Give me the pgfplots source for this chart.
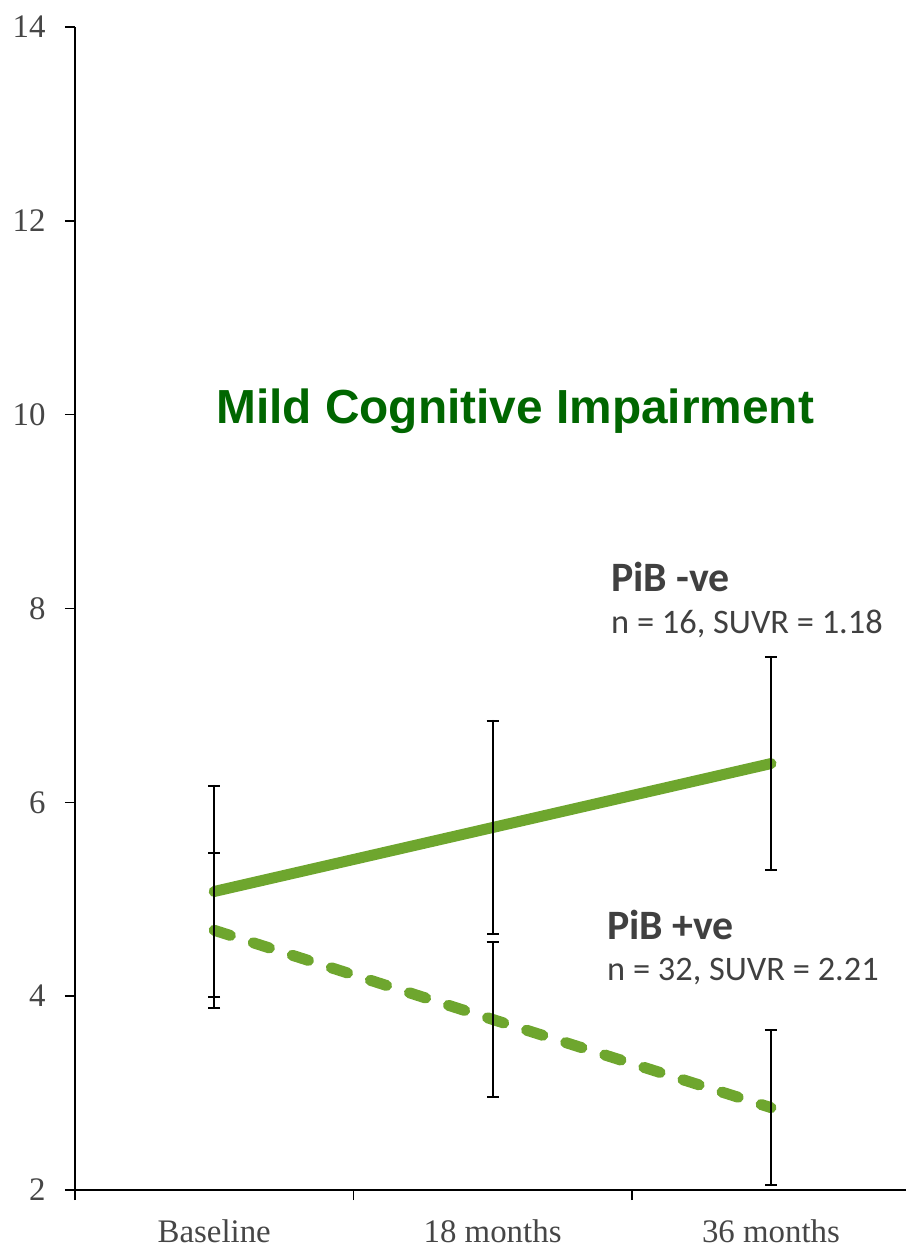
\documentclass[border=0pt]{standalone}
\usepackage{fontspec}
\setmainfont{Liberation Serif}
\newfontfamily\calibri{Carlito}
\newfontfamily\arial{Liberation Sans}
\usepackage{pgfplots}
\pgfplotsset{compat=1.18}

\definecolor{lgreen}{RGB}{110,166,46}
\definecolor{dgreen}{RGB}{0,102,0}
\definecolor{tgray}{RGB}{64,64,64}
\definecolor{lblgray}{RGB}{70,70,70}

\begin{document}
\begin{tikzpicture}
\begin{axis}[
    scale only axis,
    width=831bp, height=1163bp,
    xmin=-0.5, xmax=2.485,
    ymin=2, ymax=14,
    axis x line=bottom, axis y line=left,
    axis line style={-, line width=2.2bp, black},
    xtick={0,1,2},
    xticklabels={Baseline, 18 months, 36 months},
    minor xtick={-0.5,0.5,1.5},
    major x tick style={draw=none},
    ytick={2,4,...,14},
    tick align=outside,
    major tick length=10bp, minor tick length=10bp,
    tick style={line width=1.6bp, black},
    ticklabel style={font=\fontsize{33}{37}\selectfont, text=lblgray},
    xticklabel style={yshift=-16bp},
    yticklabel style={xshift=-16bp},
    /pgf/number format/assume math mode=true,
    clip=false,
    ]
% PiB -ve (solid)
\addplot[lgreen, line width=11bp, line cap=round, no markers,
    error bars/.cd, y dir=both, y explicit,
    error bar style={black, line width=2bp, solid},
    error mark options={black, rotate=90, mark size=6bp, line width=2bp, solid}]
coordinates {
    (0,5.08) +- (0,1.09)
    (1,5.74) +- (0,1.10)
    (2,6.40) +- (0,1.10)
};
% PiB +ve (dashed)
\addplot[lgreen, line width=11bp, line cap=round, no markers,
    dash pattern=on 17bp off 24bp,
    error bars/.cd, y dir=both, y explicit,
    error bar style={black, line width=2bp, solid},
    error mark options={black, rotate=90, mark size=6bp, line width=2bp, solid}]
coordinates {
    (0,4.68) +- (0,0.80)
    (1,3.76) +- (0,0.80)
    (2,2.85) +- (0,0.80)
};

\node[anchor=base, inner sep=0, text=dgreen,
    font=\arial\bfseries\fontsize{48}{53}\selectfont]
    at (axis cs:1.081,9.91) {Mild Cognitive Impairment};

\node[anchor=base west, inner sep=0, text=tgray,
    font=\calibri\bfseries\fontsize{42}{46}\selectfont]
    at (axis cs:1.4255,8.18) {PiB -ve};
\node[anchor=base west, inner sep=0, text=tgray,
    font=\calibri\fontsize{34.5}{40}\selectfont]
    at (axis cs:1.4255,7.74) {n = 16, SUVR = 1.18};

\node[anchor=base west, inner sep=0, text=tgray,
    font=\calibri\bfseries\fontsize{42}{46}\selectfont]
    at (axis cs:1.411,4.58) {PiB +ve};
\node[anchor=base west, inner sep=0, text=tgray,
    font=\calibri\fontsize{34.5}{40}\selectfont]
    at (axis cs:1.411,4.16) {n = 32, SUVR = 2.21};
\end{axis}
\pgfresetboundingbox
\useasboundingbox (-75bp,-59bp) rectangle (831bp,1190bp);
\end{tikzpicture}
\end{document}
